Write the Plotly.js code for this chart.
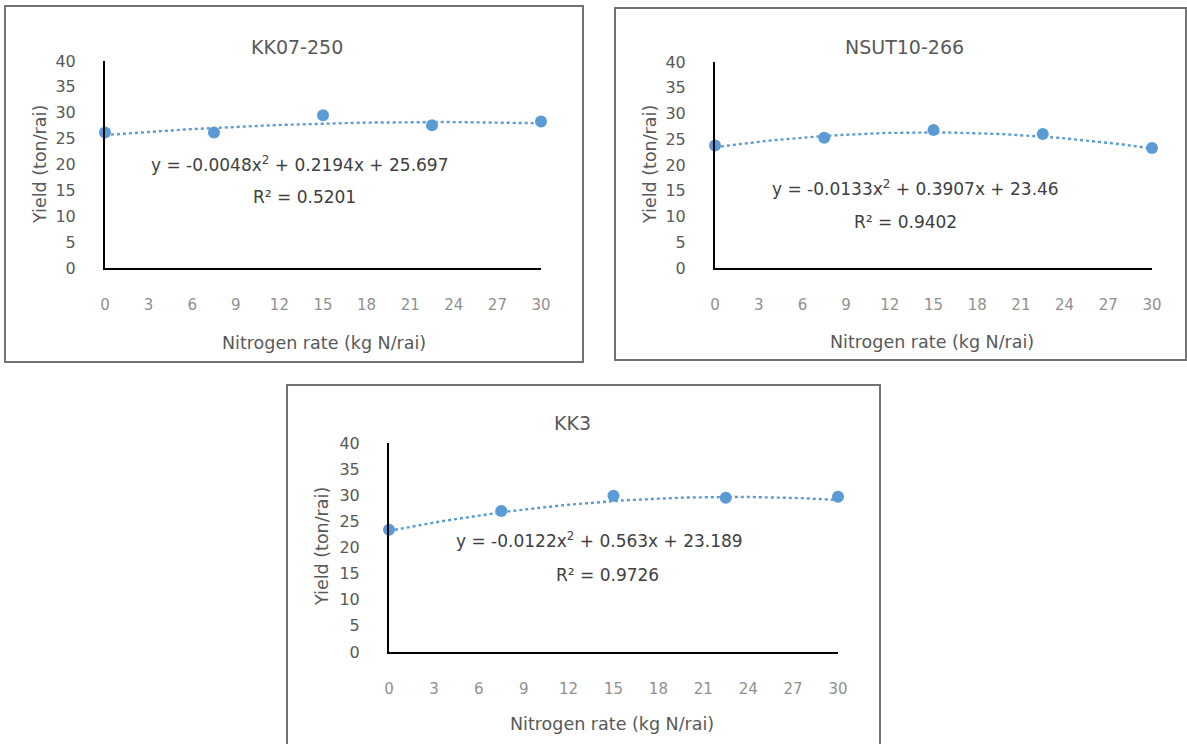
<!DOCTYPE html>
<html>
<head>
<meta charset="utf-8">
<script src="https://cdn.plot.ly/plotly-3.0.1.min.js"></script>
<style>
html,body{margin:0;padding:0;background:#fff;}
#chart{width:1187px;height:744px;}
</style>
</head>
<body>
<div id="chart"></div>
<script>
// ---- data ----
const nitrogenRates = [0, 7.5, 15, 22.5, 30];
const varieties = ["KK07-250", "NSUT10-266", "KK3"];
const yieldKK07 = [26.2, 26.2, 29.5, 27.6, 28.3];
const yieldNSUT = [23.8, 25.3, 26.8, 26.0, 23.3];
const yieldKK3  = [23.4, 27.0, 29.9, 29.5, 29.7];
// quadratic trendline coefficients [a, b, c] (y = a x^2 + b x + c)
const coefKK07 = [-0.0048, 0.2194, 25.697];
const coefNSUT = [-0.0133, 0.3907, 23.46];
const coefKK3  = [-0.0122, 0.563, 23.189];
const eqTexts = ["y = -0.0048x<sup>2</sup> + 0.2194x + 25.697",
                 "y = -0.0133x<sup>2</sup> + 0.3907x + 23.46",
                 "y = -0.0122x<sup>2</sup> + 0.563x + 23.189"];
const r2Texts = ["R² = 0.5201", "R² = 0.9402", "R² = 0.9726"];
const xTickVals = [0, 3, 6, 9, 12, 15, 18, 21, 24, 27, 30];
const yTickVals = [0, 5, 10, 15, 20, 25, 30, 35, 40];
const xTitle = "Nitrogen rate (kg N/rai)";
const yTitle = "Yield (ton/rai)";

// ---- layout helpers ----
const W = 1187, H = 744;
const px = x => x / W;
const py = y => 1 - y / H;
const FONT = "DejaVu Sans, Noto Sans, sans-serif";
const BLUE = "#5b9bd5";

// panel geometry in pixels
const panels = [
  {box:[5,6,583,362],  plot:[105,61,541,268], title:[297,47], eq:[300,164], r2:[305,197], xt:[324,343], yt:[40,165]},
  {box:[615,8,1186,360], plot:[715,62,1152,268], title:[904,47], eq:[915,188], r2:[905,222], xt:[932,342], yt:[650,165]},
  {box:[287,385,880,760], plot:[389,443,838,652], title:[572,423], eq:[600,540], r2:[608,575], xt:[612,724], yt:[322,547]}
];
const series = [yieldKK07, yieldNSUT, yieldKK3];
const coefs = [coefKK07, coefNSUT, coefKK3];

const traces = [];
const layout = {
  width: W, height: H,
  margin: {l:0, r:0, t:0, b:0},
  paper_bgcolor: "#fff", plot_bgcolor: "rgba(0,0,0,0)",
  showlegend: false,
  font: {family: FONT, color: "#595959"},
  shapes: [], annotations: []
};

// fine sampling of x for smooth trendline
const trendX = [];
for (let i = 0; i <= 60; i++) trendX.push(i * 0.5);

panels.forEach((p, i) => {
  const ax = i === 0 ? "" : String(i + 1);
  const c = coefs[i];
  const trendY = trendX.map(x => c[0]*x*x + c[1]*x + c[2]);
  traces.push({
    x: trendX, y: trendY, type: "scatter", mode: "lines",
    line: {color: BLUE, width: 2.4, dash: "dot"},
    xaxis: "x" + ax, yaxis: "y" + ax, hoverinfo: "skip", cliponaxis: false
  });
  traces.push({
    x: nitrogenRates, y: series[i], type: "scatter", mode: "markers",
    marker: {color: BLUE, size: 12}, name: varieties[i],
    xaxis: "x" + ax, yaxis: "y" + ax, cliponaxis: false
  });
  layout["xaxis" + ax] = {
    domain: [px(p.plot[0]), px(p.plot[2])],
    range: [0, 30], tickvals: xTickVals, anchor: "y" + ax,
    showgrid: false, zeroline: false,
    showline: true, linecolor: "#000", linewidth: 2,
    ticks: "", ticklabelstandoff: 22,
    tickfont: {family: FONT, size: 15, color: "#909090"},
    fixedrange: true
  };
  layout["yaxis" + ax] = {
    domain: [py(p.plot[3]), py(p.plot[1])],
    range: [0, 40], tickvals: yTickVals, anchor: "x" + ax,
    showgrid: false, zeroline: false,
    showline: true, linecolor: "#000", linewidth: 2,
    ticks: "", ticklabelstandoff: 24,
    tickfont: {family: FONT, size: 16, color: "#595959"},
    fixedrange: true
  };
  layout.shapes.push({
    type: "rect", xref: "paper", yref: "paper",
    x0: px(p.box[0]), x1: px(p.box[2]), y0: py(p.box[3]), y1: py(p.box[1]),
    line: {color: "#737373", width: 2}, fillcolor: "rgba(0,0,0,0)", layer: "below"
  });
  const ann = (txt, xy, size, color, extra) => Object.assign({
    text: txt, xref: "paper", yref: "paper", x: px(xy[0]), y: py(xy[1]),
    xanchor: "center", yanchor: "middle", showarrow: false,
    font: {family: FONT, size: size, color: color}
  }, extra || {});
  layout.annotations.push(ann(varieties[i], p.title, 19, "#595959"));
  layout.annotations.push(ann(eqTexts[i], p.eq, 17, "#404040"));
  layout.annotations.push(ann(r2Texts[i], p.r2, 17, "#404040"));
  layout.annotations.push(ann(xTitle, p.xt, 17.5, "#595959"));
  layout.annotations.push(ann(yTitle, p.yt, 17.5, "#595959", {textangle: -90}));
});

Plotly.newPlot("chart", traces, layout, {displayModeBar: false, staticPlot: true});
</script>
</body>
</html>
